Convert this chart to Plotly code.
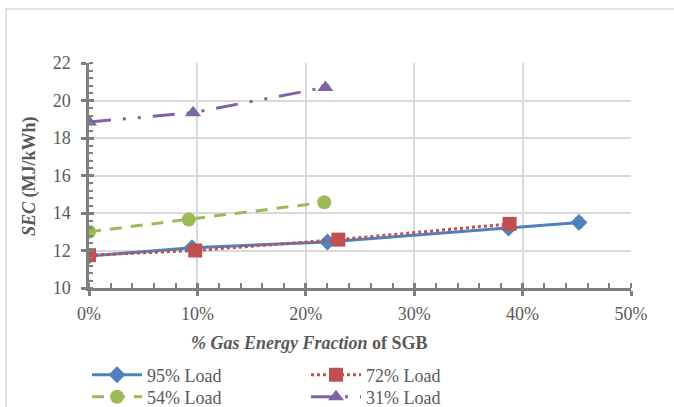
import plotly.graph_objects as go

# Data
x95 = [0.0, 0.095, 0.22, 0.387, 0.452]
y95 = [11.7, 12.15, 12.45, 13.2, 13.5]
e95 = [0.05, 0.05, 0.05, 0.1, 0.22]

x72 = [0.0, 0.098, 0.23, 0.388]
y72 = [11.75, 12.0, 12.58, 13.42]
e72 = [0.05, 0.05, 0.1, 0.1]

x54 = [0.0, 0.092, 0.217]
y54 = [13.0, 13.65, 14.57]
e54 = [0.05, 0.05, 0.22]

x31 = [0.0, 0.096, 0.218]
y31 = [18.85, 19.35, 20.7]
e31 = [0.05, 0.05, 0.1]

names = ["95% Load", "72% Load", "54% Load", "31% Load"]
x_ticks = [0, 0.1, 0.2, 0.3, 0.4, 0.5]
y_ticks = [10, 12, 14, 16, 18, 20, 22]

FONT = "Liberation Serif"
GRAY = "#595959"

fig = go.Figure()

def err(vals):
    return dict(type="data", array=vals, visible=True, color="#404040", thickness=1.5, width=4)

fig.add_trace(go.Scatter(x=x95, y=y95, name=names[0], mode="lines+markers",
                         line=dict(color="#4F81BD", width=3, dash="solid"),
                         marker=dict(symbol="diamond", size=13, color="#4F81BD"),
                         error_y=err(e95), legend="legend"))
fig.add_trace(go.Scatter(x=x72, y=y72, name=names[1], mode="lines+markers",
                         line=dict(color="#C0504D", width=3, dash="dot"),
                         marker=dict(symbol="square", size=14, color="#C0504D"),
                         error_y=err(e72), legend="legend2"))
fig.add_trace(go.Scatter(x=x54, y=y54, name=names[2], mode="lines+markers",
                         line=dict(color="#9BBB59", width=3, dash="12px,9px"),
                         marker=dict(symbol="circle", size=14, color="#9BBB59"),
                         error_y=err(e54), legend="legend3"))
fig.add_trace(go.Scatter(x=x31, y=y31, name=names[3], mode="lines+markers",
                         line=dict(color="#8064A2", width=3, dash="22px,12px,3px,12px,3px,12px"),
                         marker=dict(symbol="triangle-up", size=14, color="#8064A2"),
                         error_y=err(e31), legend="legend4"))

L, R, T, B = 89, 631, 63, 288
W, H = 674, 407
pw, ph = R - L, B - T

def px2paper_x(px):
    return (px - L) / pw

def px2paper_y(py):
    return (B - py) / ph

# invisible overlay axes to give crossing major ticks
fig.add_trace(go.Scatter(x=[0, 0.5], y=[10, 22], xaxis="x2", yaxis="y2",
                         mode="markers", marker=dict(opacity=0), showlegend=False, hoverinfo="skip"))

def leg(xpx, ypx):
    return dict(x=px2paper_x(xpx), y=px2paper_y(ypx), xanchor="left", yanchor="middle",
                orientation="v", font=dict(family=FONT, size=18, color=GRAY),
                bgcolor="rgba(0,0,0,0)", itemwidth=50)

fig.update_layout(
    width=W, height=H,
    margin=dict(l=L, r=W - R, t=T, b=H - B, autoexpand=False),
    paper_bgcolor="white", plot_bgcolor="white",
    font=dict(family=FONT, size=17, color=GRAY),
    xaxis=dict(range=[0, 0.5], tickvals=x_ticks, tickformat=".0%",
               showgrid=True, gridcolor="#d9d9d9", gridwidth=1.5,
               showline=True, linecolor="#7f7f7f", linewidth=2.5,
               ticks="outside", ticklen=5, tickwidth=2.5, tickcolor="#7f7f7f",
               minor=dict(dtick=0.02, ticks="inside", ticklen=5, tickwidth=1.5,
                          tickcolor="#7f7f7f", showgrid=False),
               tickfont=dict(family=FONT, size=18, color=GRAY),
               zeroline=False, ticklabelstandoff=3),
    yaxis=dict(range=[10, 22], tickvals=y_ticks,
               showgrid=True, gridcolor="#d9d9d9", gridwidth=1.5,
               showline=True, linecolor="#7f7f7f", linewidth=2.5,
               ticks="outside", ticklen=5, tickwidth=2.5, tickcolor="#7f7f7f",
               minor=dict(dtick=0.4, ticks="inside", ticklen=4, tickwidth=1.5,
                          tickcolor="#7f7f7f", showgrid=False),
               tickfont=dict(family=FONT, size=18, color=GRAY),
               zeroline=False, ticklabelstandoff=7),
    xaxis2=dict(overlaying="x", range=[0, 0.5], tickvals=x_ticks, showticklabels=False,
                ticks="inside", ticklen=5, tickwidth=2.5, tickcolor="#7f7f7f",
                showgrid=False, zeroline=False, showline=False, side="bottom"),
    yaxis2=dict(overlaying="y", range=[10, 22], tickvals=y_ticks, showticklabels=False,
                ticks="inside", ticklen=5, tickwidth=2.5, tickcolor="#7f7f7f",
                showgrid=False, zeroline=False, showline=False, side="left"),
    legend=leg(87, 375),
    legend2=leg(306, 375),
    legend3=leg(87, 397),
    legend4=leg(306, 397),
    showlegend=True,
)

# axis titles as annotations
fig.add_annotation(text="<b><i>% Gas Energy Fraction</i> of SGB</b>",
                   xref="paper", yref="paper", x=px2paper_x(309), y=px2paper_y(343),
                   xanchor="center", yanchor="middle", showarrow=False,
                   font=dict(family=FONT, size=18, color=GRAY))
fig.add_annotation(text="<b><i>SEC</i> (MJ/kWh)</b>",
                   xref="paper", yref="paper", x=px2paper_x(29), y=px2paper_y(176),
                   xanchor="center", yanchor="middle", showarrow=False, textangle=-90,
                   font=dict(family=FONT, size=18, color=GRAY))

# chart outer border
fig.add_shape(type="rect", xref="paper", yref="paper",
              x0=px2paper_x(6), x1=px2paper_x(690), y0=px2paper_y(430), y1=px2paper_y(9),
              line=dict(color="#d9d9d9", width=1.5), fillcolor="rgba(0,0,0,0)", layer="below")

fig.write_html("out.html", config={"displayModeBar": False},
               post_script="document.body.style.margin='0';document.body.style.padding='0';")
